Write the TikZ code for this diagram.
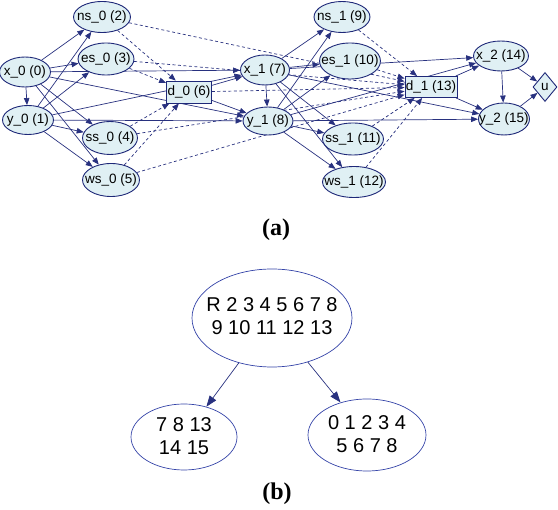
\documentclass[tikz,border=0pt]{standalone}
\usepackage{fontspec}
\setmainfont{Liberation Serif}
\setsansfont{Liberation Sans}
\usetikzlibrary{shapes.geometric,arrows.meta,backgrounds}
\definecolor{nodefill}{HTML}{E0F0F4}
\definecolor{navy}{HTML}{1E2878}
\definecolor{ebl}{HTML}{28317F}
\definecolor{bblue}{HTML}{3544A8}
\begin{document}
\begin{tikzpicture}[x=1pt,y=-1pt,
  every node/.style={font=\sffamily\fontsize{13.5}{15}\selectfont, inner sep=0pt, text=black},
  var/.style={ellipse, draw=navy, fill=nodefill, line width=0.9pt},
  dec/.style={rectangle, draw=navy, fill=nodefill, line width=0.9pt},
  util/.style={diamond, draw=navy, fill=nodefill, line width=0.9pt, aspect=0.8},
  e/.style={draw=ebl, line width=0.7pt, -{Triangle[length=7pt,width=5.5pt]}},
  ed/.style={e, dash pattern=on 3pt off 2.5pt},
  bnode/.style={ellipse, draw=bblue, fill=white, line width=0.7pt},
  btext/.style={font=\sffamily\fontsize{20}{23}\selectfont, align=center},
  be/.style={draw=ebl, line width=0.7pt, -{Triangle[length=11pt,width=8pt]}},
  captxt/.style={font=\rmfamily\bfseries\fontsize{24}{26}\selectfont}
]
\useasboundingbox (0,0) rectangle (558,510);
% ---------- part (a) nodes ----------
\node[var, minimum width=51pt, minimum height=30pt, label=center:{x\_0 (0)}] (x0) at (25,72) {};
\node[var, minimum width=51pt, minimum height=29pt, label=center:{y\_0 (1)}] (y0) at (28,120) {};
\node[var, minimum width=57pt, minimum height=31pt, label=center:{ns\_0 (2)}] (ns0) at (102,17) {};
\node[var, minimum width=56pt, minimum height=32pt, label=center:{es\_0 (3)}] (es0) at (106,59) {};
\node[var, minimum width=55pt, minimum height=33pt, label=center:{ss\_0 (4)}] (ss0) at (110,138) {};
\node[var, minimum width=57pt, minimum height=33pt, label=center:{ws\_0 (5)}] (ws0) at (111,180) {};
\node[dec, minimum width=45pt, minimum height=22pt, label=center:{d\_0 (6)}] (d0) at (189,92) {};
\node[var, minimum width=49pt, minimum height=30pt, label=center:{x\_1 (7)}] (x1) at (265,70) {};
\node[var, minimum width=50pt, minimum height=28pt, label=center:{y\_1 (8)}] (y1) at (268,121) {};
\node[var, minimum width=56pt, minimum height=31pt, label=center:{ns\_1 (9)}] (ns1) at (342,17) {};
\node[var, minimum width=61pt, minimum height=36pt, label=center:{es\_1 (10)}] (es1) at (350,61) {};
\node[var, minimum width=61pt, minimum height=32pt, label=center:{ss\_1 (11)}] (ss1) at (353,139) {};
\node[var, minimum width=63pt, minimum height=31pt, label=center:{ws\_1 (12)}] (ws1) at (354,182) {};
\node[dec, minimum width=52pt, minimum height=21pt, label=center:{d\_1 (13)}] (d1) at (431,87) {};
\node[var, minimum width=55pt, minimum height=30pt, label=center:{x\_2 (14)}] (x2) at (501,56) {};
\node[var, minimum width=51pt, minimum height=32pt, label=center:{y\_2 (15)}] (y2) at (504,119) {};
\node[util, minimum width=24pt, minimum height=29pt, label=center:{u}] (u) at (545,87) {};
% ---------- part (a) edges ----------
\begin{scope}[on background layer]
% slice 0
\foreach \a/\b in {x0/y0, x0/ns0, x0/es0, x0/ss0, x0/ws0, y0/ns0, y0/es0, y0/ss0, y0/ws0,
                   x0/x1, x0/y1, y0/x1, y0/y1, d0/x1, d0/y1}
  \draw[e] (\a) -- (\b);
\foreach \a/\b in {ns0/d0, es0/d0, ss0/d0, ws0/d0, ns0/d1, es0/d1, ss0/d1, ws0/d1, d0/d1}
  \draw[ed] (\a) -- (\b);
% slice 1
\foreach \a/\b in {x1/y1, x1/ns1, x1/es1, x1/ss1, x1/ws1, y1/ns1, y1/es1, y1/ss1, y1/ws1,
                   x1/x2, x1/y2, y1/x2, y1/y2, d1/x2, d1/y2}
  \draw[e] (\a) -- (\b);
\foreach \a/\b in {ns1/d1, es1/d1, ss1/d1, ws1/d1}
  \draw[ed] (\a) -- (\b);
% slice 2
\foreach \a/\b in {x2/y2, x2/u, y2/u}
  \draw[e] (\a) -- (\b);
\end{scope}
\node[captxt] (capa) at (276,230) {(a)};
% ---------- part (b) ----------
\node[bnode, minimum width=160pt, minimum height=98pt] (root) at (272,318) {};
\node[btext] (roott) at (272,316) {R 2 3 4 5 6 7 8\\9 10 11 12 13};
\node[bnode, minimum width=106pt, minimum height=66pt] (lc) at (184,437) {};
\node[btext] (lct) at (184,436) {7 8 13\\14 15};
\node[bnode, minimum width=118pt, minimum height=72pt] (rc) at (367,435) {};
\node[btext] (rct) at (367,434) {0 1 2 3 4\\5 6 7 8};
\draw[be] (root) -- (lc);
\draw[be] (root) -- (rc);
\node[captxt] (capb) at (277,494) {(b)};
\end{tikzpicture}
\end{document}
